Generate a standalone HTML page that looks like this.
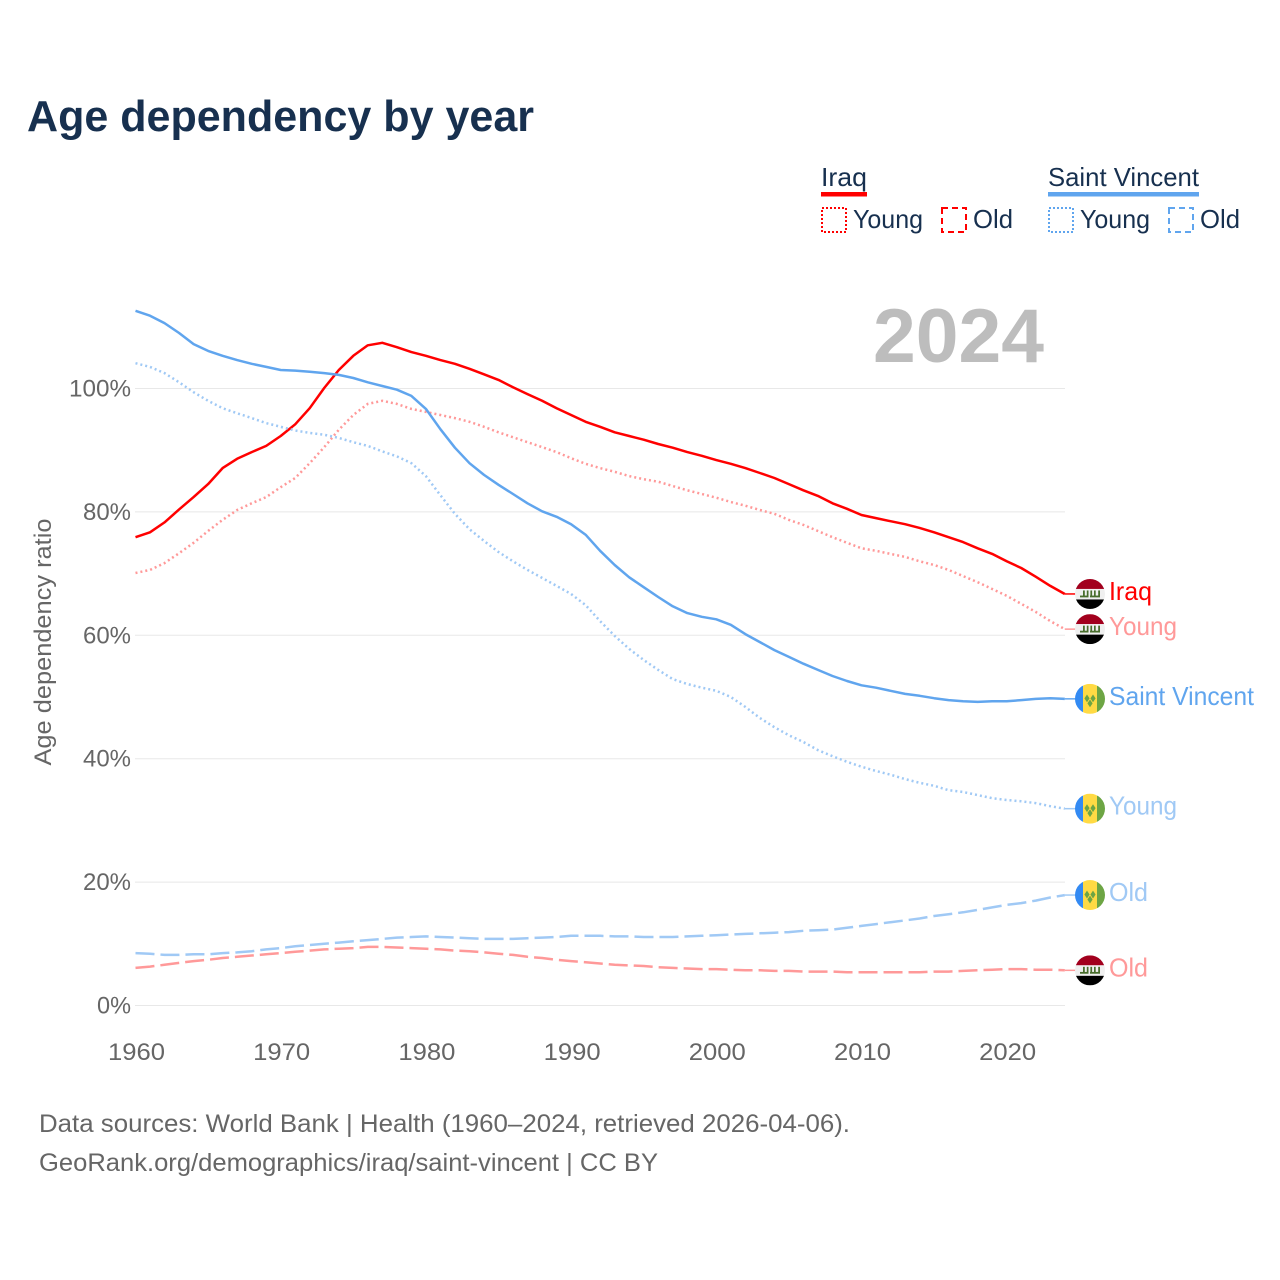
<!DOCTYPE html>
<html lang="en">
<head>
<meta charset="utf-8">
<title>Age dependency by year</title>
<style>
html,body{margin:0;padding:0;background:#fff;}
svg{display:block;font-family:"Liberation Sans",sans-serif;}
</style>
</head>
<body>
<svg id="chart" xmlns="http://www.w3.org/2000/svg" width="1280" height="1280" viewBox="0 0 1280 1280">
  <defs>
    <clipPath id="flag-clip"><circle cx="0" cy="0" r="15"/></clipPath>
    <symbol id="flag-iraq" overflow="visible">
      <g clip-path="url(#flag-clip)">
        <rect x="-15" y="-15" width="30" height="10" fill="#a2001d"/>
        <rect x="-15" y="-5" width="30" height="10.5" fill="#f0f0f0"/>
        <rect x="-15" y="5.5" width="30" height="9.5" fill="#000"/>
        <rect x="-10" y="1.6" width="8.5" height="1.8" fill="#496e2d"/>
        <rect x="0" y="1.6" width="10" height="1.8" fill="#496e2d"/>
        <rect x="-7" y="-3.5" width="1.8" height="5.5" fill="#496e2d"/>
        <rect x="-3.2" y="-3.5" width="1.7" height="5.5" fill="#496e2d"/>
        <rect x="0.4" y="-3.5" width="1.7" height="5.5" fill="#496e2d"/>
        <rect x="4" y="-3.5" width="1.7" height="5.5" fill="#496e2d"/>
        <rect x="8.2" y="-3.5" width="1.8" height="5.5" fill="#496e2d"/>
      </g>
    </symbol>
    <symbol id="flag-svg" overflow="visible">
      <g clip-path="url(#flag-clip)">
        <rect x="-15" y="-15" width="8" height="30" fill="#338af3"/>
        <rect x="-7" y="-15" width="14" height="30" fill="#ffda44"/>
        <rect x="7" y="-15" width="8" height="30" fill="#6da544"/>
        <polygon points="-5.6,-0.5 -3,-4.4 -0.4,-0.5 -3,3.4" fill="#6da544"/>
        <polygon points="0.4,-0.5 3,-4.4 5.6,-0.5 3,3.4" fill="#6da544"/>
        <polygon points="-2.6,4.5 0,0.6 2.6,4.5 0,8.4" fill="#6da544"/>
      </g>
    </symbol>
  </defs>

  <text x="27" y="131" font-size="44" font-weight="700" fill="#17304f" textLength="507" lengthAdjust="spacingAndGlyphs">Age dependency by year</text>

  <g font-size="26" fill="#17304f">
    <text x="821" y="186" textLength="46" lengthAdjust="spacingAndGlyphs">Iraq</text>
    <rect x="821" y="192" width="46" height="4.5" fill="#ff0000"/>
    <rect x="822" y="208" width="24" height="24" fill="none" stroke="#ff0000" stroke-width="2" stroke-dasharray="2 2"/>
    <text x="853" y="228" textLength="70" lengthAdjust="spacingAndGlyphs">Young</text>
    <rect x="942" y="208" width="24" height="24" fill="none" stroke="#ff0000" stroke-width="2" stroke-dasharray="6 4"/>
    <text x="973" y="228" textLength="40" lengthAdjust="spacingAndGlyphs">Old</text>
    <text x="1048" y="186" textLength="151" lengthAdjust="spacingAndGlyphs">Saint Vincent</text>
    <rect x="1048" y="192" width="151" height="4.5" fill="#60a5ee"/>
    <rect x="1049" y="208" width="24" height="24" fill="none" stroke="#60a5ee" stroke-width="2" stroke-dasharray="2 2"/>
    <text x="1080" y="228" textLength="70" lengthAdjust="spacingAndGlyphs">Young</text>
    <rect x="1169" y="208" width="24" height="24" fill="none" stroke="#60a5ee" stroke-width="2" stroke-dasharray="6 4"/>
    <text x="1200" y="228" textLength="40" lengthAdjust="spacingAndGlyphs">Old</text>
  </g>

  <g id="grid"></g>
  <g id="yticks"></g>
  <g id="xticks"></g>

  <text x="873" y="362" font-size="76" font-weight="700" fill="#bdbdbd" textLength="171" lengthAdjust="spacingAndGlyphs">2024</text>

  <text transform="translate(51,642) rotate(-90)" text-anchor="middle" font-size="24" fill="#666" textLength="247" lengthAdjust="spacingAndGlyphs">Age dependency ratio</text>

  <g id="series"></g>
  <g id="endlabels"></g>

  <g font-size="25" fill="#666">
    <text x="39" y="1132" textLength="811" lengthAdjust="spacingAndGlyphs">Data sources: World Bank | Health (1960–2024, retrieved 2026-04-06).</text>
    <text x="39" y="1171" textLength="619" lengthAdjust="spacingAndGlyphs">GeoRank.org/demographics/iraq/saint-vincent | CC BY</text>
  </g>
</svg>
<script>
const yTickValues = [0, 20, 40, 60, 80, 100];
const xTickYears = [1960, 1970, 1980, 1990, 2000, 2010, 2020];
const startYear = 1960;

const iraqTotal = [75.9,76.7,78.3,80.4,82.4,84.5,87.1,88.6,89.7,90.7,92.3,94.2,96.8,100.1,103,105.3,107,107.4,106.7,105.9,105.3,104.6,104,103.2,102.3,101.4,100.2,99.1,98,96.8,95.7,94.6,93.8,92.9,92.3,91.7,91,90.4,89.7,89.1,88.4,87.8,87.1,86.3,85.5,84.5,83.5,82.6,81.4,80.5,79.5,79,78.5,78,77.4,76.7,75.9,75.1,74.1,73.2,72,70.9,69.5,68,66.7];
const iraqYoung = [70.1,70.6,71.7,73.3,75,76.9,78.7,80.3,81.4,82.4,84,85.5,87.9,90.5,93.3,95.7,97.5,98,97.5,96.7,96.2,95.7,95.2,94.6,93.8,92.9,92.1,91.3,90.5,89.7,88.7,87.8,87.1,86.5,85.8,85.3,84.9,84.2,83.5,82.9,82.3,81.6,81,80.3,79.7,78.7,77.9,76.9,75.9,75,74.1,73.7,73.2,72.7,72,71.4,70.6,69.6,68.6,67.5,66.4,65.1,63.8,62.3,61];
const iraqOld = [6.1,6.3,6.6,6.9,7.2,7.4,7.7,7.9,8.1,8.3,8.5,8.7,8.9,9.1,9.2,9.3,9.5,9.5,9.4,9.3,9.2,9.1,8.9,8.8,8.6,8.4,8.2,7.9,7.7,7.4,7.2,7,6.8,6.6,6.5,6.4,6.2,6.1,6,5.9,5.9,5.8,5.7,5.7,5.6,5.6,5.5,5.5,5.5,5.4,5.4,5.4,5.4,5.4,5.4,5.5,5.5,5.6,5.7,5.8,5.9,5.9,5.8,5.8,5.7];
const vincentTotal = [112.6,111.8,110.6,109,107.2,106.1,105.3,104.6,104,103.5,103,102.9,102.7,102.5,102.2,101.7,101,100.4,99.8,98.8,96.7,93.4,90.4,87.9,86,84.4,82.9,81.4,80.1,79.2,78,76.3,73.7,71.4,69.4,67.8,66.2,64.7,63.6,63,62.6,61.7,60.2,58.9,57.6,56.5,55.4,54.4,53.4,52.6,51.9,51.5,51,50.5,50.2,49.8,49.5,49.3,49.2,49.3,49.3,49.5,49.7,49.8,49.7];
const vincentYoung = [104.1,103.5,102.5,101,99.4,98,96.8,96,95.2,94.4,93.8,93.2,92.8,92.5,92,91.3,90.7,89.8,89,87.9,85.8,82.7,79.7,77.2,75.3,73.5,72,70.6,69.3,68,66.7,64.9,62.3,59.9,57.8,56,54.4,52.9,52.1,51.5,51,50,48.4,46.6,45.1,43.8,42.7,41.4,40.4,39.5,38.7,38,37.4,36.7,36.1,35.6,34.9,34.6,34.1,33.6,33.3,33.1,32.8,32.3,31.9];
const vincentOld = [8.5,8.4,8.2,8.2,8.3,8.3,8.5,8.6,8.8,9.1,9.3,9.6,9.8,10,10.2,10.4,10.6,10.8,11,11.1,11.2,11.1,11,10.9,10.8,10.8,10.8,10.9,11,11.1,11.3,11.3,11.3,11.2,11.2,11.1,11.1,11.1,11.2,11.3,11.4,11.5,11.6,11.7,11.8,11.9,12.1,12.2,12.3,12.6,12.9,13.2,13.5,13.8,14.1,14.5,14.8,15.1,15.5,15.9,16.3,16.6,17,17.5,17.9];

const seriesList = [
  {key:'iraq-total', values:iraqTotal, color:'#ff0000', dash:null, flag:'flag-iraq', label:'Iraq', len:43},
  {key:'iraq-young', values:iraqYoung, color:'#ff9999', dash:'2 3', flag:'flag-iraq', label:'Young', len:68},
  {key:'iraq-old', values:iraqOld, color:'#ff9999', dash:'19 6', flag:'flag-iraq', label:'Old', len:39},
  {key:'saint-vincent-total', values:vincentTotal, color:'#60a5ee', dash:null, flag:'flag-svg', label:'Saint Vincent', len:145},
  {key:'saint-vincent-young', values:vincentYoung, color:'#a0c9f5', dash:'2 3', flag:'flag-svg', label:'Young', len:68},
  {key:'saint-vincent-old', values:vincentOld, color:'#a0c9f5', dash:'19 6', flag:'flag-svg', label:'Old', len:39}
];

const NS = 'http://www.w3.org/2000/svg';
const xScale = year => 135.5 + (year - 1960) * 14.52;
const yScale = v => 1005.5 - v * 6.17;

function make(tag, attrs, parent, text) {
  const el = document.createElementNS(NS, tag);
  for (const k in attrs) el.setAttribute(k, attrs[k]);
  if (text !== undefined) el.textContent = text;
  parent.appendChild(el);
  return el;
}

const gridG = document.getElementById('grid');
const yG = document.getElementById('yticks');
const xG = document.getElementById('xticks');
const seriesG = document.getElementById('series');
const endG = document.getElementById('endlabels');

yTickValues.forEach(v => {
  const line = make('line', {x1:135, x2:1065, y1:yScale(v), y2:yScale(v), stroke:'#e8e8e8', 'stroke-width':1}, gridG);
  
  
  const s = v + '%';
  const t = make('text', {x:131, y:yScale(v) + 8, 'text-anchor':'end', 'font-size':24, fill:'#666', textLength:s.length * 14 + 6, lengthAdjust:'spacingAndGlyphs'}, yG, s);
  
  
});

xTickYears.forEach(year => {
  const t = make('text', {x:xScale(year) + 1, y:1060, 'text-anchor':'middle', 'font-size':24, fill:'#666', textLength:57, lengthAdjust:'spacingAndGlyphs'}, xG, String(year));
  
  
});

seriesList.forEach(s => {
  const pts = s.values.map((v, i) => xScale(startYear + i).toFixed(1) + ',' + yScale(v).toFixed(1)).join(' ');
  const attrs = {points:pts, fill:'none', stroke:s.color, 'stroke-width':2.5, 'stroke-linejoin':'round'};
  if (s.dash) attrs['stroke-dasharray'] = s.dash;
  const line = make('polyline', attrs, seriesG);
  
  

  const lastIndex = s.values.length - 1;
  const lastY = yScale(s.values[lastIndex]);
  const lastX = xScale(startYear + lastIndex);
  const lead = make('line', {x1:lastX, x2:1076, y1:lastY, y2:lastY, stroke:s.color, 'stroke-width':1.5}, seriesG);
  
  

  const flag = make('use', {href:'#' + s.flag, x:1090, y:lastY}, endG);
  
  

  const label = make('text', {x:1109, y:lastY + 6, 'font-size':26, fill:s.color, textLength:s.len, lengthAdjust:'spacingAndGlyphs'}, endG, s.label);
  
  
});
</script>
</body>
</html>
